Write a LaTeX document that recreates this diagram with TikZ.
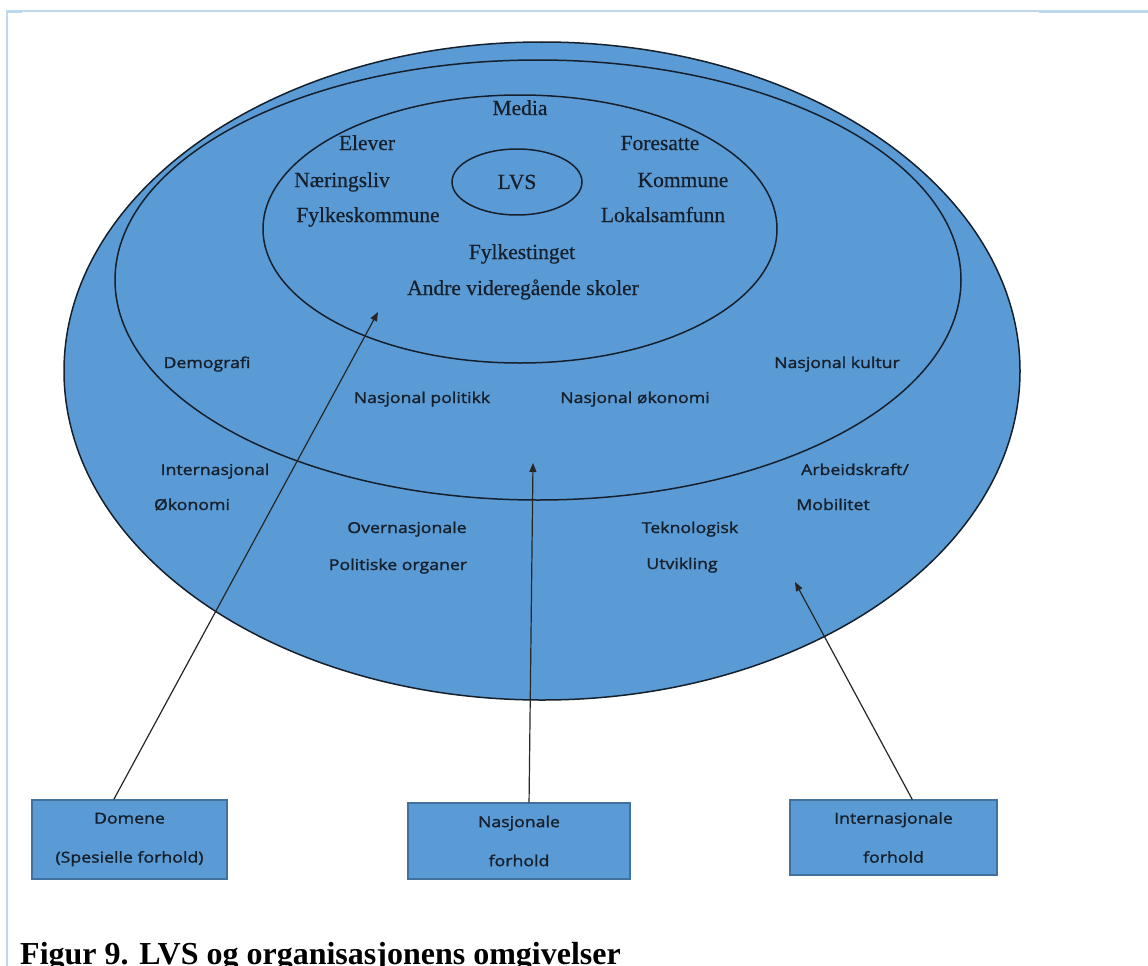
\documentclass[tikz,border=0pt]{standalone}
\usepackage{fontspec}
\setmainfont{Liberation Serif}
\newfontfamily\labelfont[FakeStretch=1.18,FakeBold=1.6]{Open Sans}
\newfontfamily\actorfont[FakeBold=0.6]{Liberation Serif}
\usetikzlibrary{shapes.geometric,arrows.meta,calc}
\definecolor{fillblue}{HTML}{5B9BD5}
\definecolor{edgeblue}{HTML}{41719C}
\definecolor{ink}{HTML}{15202C}
\definecolor{framecol}{HTML}{BDD7EE}

\begin{document}
\begin{tikzpicture}[x=1pt,y=-1pt,
  ring/.style={ellipse, draw=ink, line width=1.5pt, inner sep=0pt},
  serif/.style={font=\actorfont\fontsize{21.5}{24}\selectfont, text=ink, anchor=base, inner sep=0pt},
  sans/.style={font=\labelfont\fontsize{15}{18}\selectfont, text=ink, anchor=base, inner sep=0pt},
  box/.style={draw=edgeblue, line width=1.2pt, fill=fillblue, align=center, text=ink,
              font=\labelfont\fontsize{15}{39}\selectfont},
  link/.style={draw=black!85, line width=1.2pt, -{Triangle[length=9pt,width=7pt]}}
]
\useasboundingbox (0,0) rectangle (1148,966);

% page frame
\draw[framecol, line width=1.3pt] (7,966) -- (7,11) -- (1148,11);
\draw[framecol, line width=2.5pt] (1039,11.5) -- (1148,11.5);
\draw[framecol, line width=2.5pt] (7,11.5) -- (22,11.5);

% nested environments
\node[ring, fill=fillblue, minimum width=956pt, minimum height=658pt] (outer) at (542,371) {};
\node[ring, fill=fillblue, minimum width=846pt, minimum height=440pt] (middle) at (538,280) {};
\node[ring, minimum width=514pt, minimum height=268pt] (inner) at (520,229) {};
\node[ring, minimum width=130pt, minimum height=66pt, text=ink,
      font=\actorfont\fontsize{21.5}{24}\selectfont] (lvs) at (517,182) {LVS};

% domain actors
\node[serif] (media) at (520,115) {Media};
\node[serif] (elever) at (367,150) {Elever};
\node[serif] (foresatte) at (660,150) {Foresatte};
\node[serif] (naering) at (342,187) {Næringsliv};
\node[serif] (kommune) at (683,187) {Kommune};
\node[serif] (fylkesk) at (368,222) {Fylkeskommune};
\node[serif] (lokal) at (663,222) {Lokalsamfunn};
\node[serif] (fylkest) at (522,259) {Fylkestinget};
\node[serif] (andre) at (523,295) {Andre videregående skoler};

% national factors
\node[sans] (demo) at (207,368) {Demografi};
\node[sans] (npol) at (422,403) {Nasjonal politikk};
\node[sans] (nok) at (635,403) {Nasjonal økonomi};
\node[sans] (nkult) at (837,368) {Nasjonal kultur};

% international factors
\node[sans] (intok1) at (215,475) {Internasjonal};
\node[sans] (intok2) at (192,510) {Økonomi};
\node[sans] (over1) at (407,533) {Overnasjonale};
\node[sans] (over2) at (398,570) {Politiske organer};
\node[sans] (tek1) at (690,533) {Teknologisk};
\node[sans] (tek2) at (682,569) {Utvikling};
\node[sans] (arb1) at (855,475) {Arbeidskraft/};
\node[sans] (arb2) at (833,510) {Mobilitet};

% legend boxes
\node[box, minimum width=195pt, minimum height=79pt] (dom) at (129.5,839.5) {Domene\\(Spesielle forhold)};
\node[box, minimum width=222pt, minimum height=76pt] (nat) at (519,841) {Nasjonale\\forhold};
\node[box, minimum width=207pt, minimum height=75pt] (intl) at (893.5,837.5) {Internasjonale\\forhold};

% pointers into the rings
\coordinate (t1) at (378,312);
\coordinate (t2) at (533,463);
\coordinate (t3) at (795,582);
\draw[link] ($(dom.north west)!0.42!(dom.north east)$) -- (t1);
\draw[link] ($(nat.north west)!0.545!(nat.north east)$) -- (t2);
\draw[link] ($(intl.north west)!0.59!(intl.north east)$) -- (t3);

% caption
\node[anchor=base west, inner sep=0pt, text=black,
      font=\bfseries\fontsize{32}{36}\selectfont] (caption) at (20,964)
      {Figur 9. LVS og organisasjonens omgivelser};
\end{tikzpicture}
\end{document}
